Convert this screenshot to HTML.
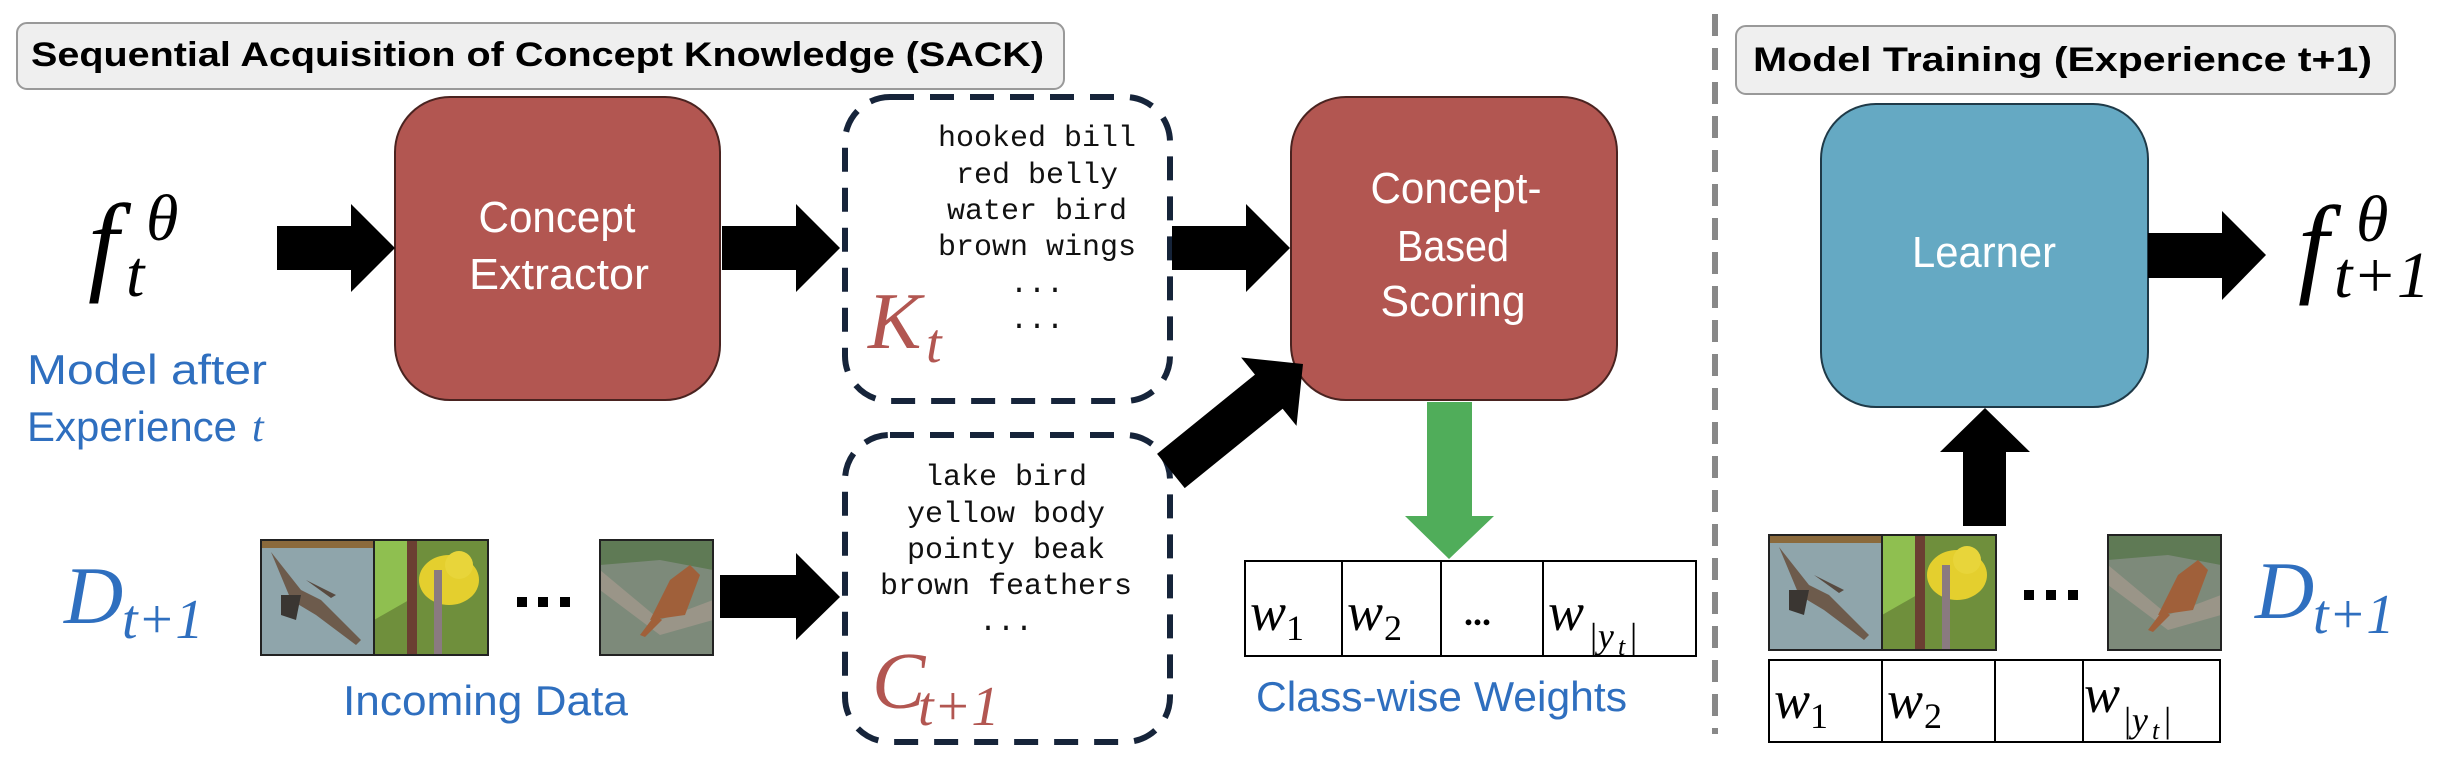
<!DOCTYPE html>
<html><head><meta charset="utf-8"><style>html,body{margin:0;padding:0;background:#fff}svg{display:block}</style></head>
<body>
<svg width="2462" height="757" viewBox="0 0 2462 757" xmlns="http://www.w3.org/2000/svg">
<defs>
<clipPath id="c1"><rect x="0" y="0" width="113" height="115"/></clipPath>
<g id="b1"><g clip-path="url(#c1)"><rect width="113" height="115" fill="#8fa5ab"/><rect width="113" height="8" fill="#8b6a3c"/>
<path d="M10 12 L40 50 L60 60 L100 100 L95 105 L55 75 L30 60 Z" fill="#6d5b4c"/><path d="M20 55 L40 55 L35 80 L20 75Z" fill="#3a3632"/><path d="M45 40 L75 55 L70 58Z" fill="#574a40"/></g><rect width="113" height="115" fill="none" stroke="#222" stroke-width="2"/></g>
<g id="b2"><rect width="114" height="115" fill="#6f8f3c"/><path d="M0 0 L40 0 L35 60 L0 80Z" fill="#8fbf50"/><rect x="33" y="0" width="10" height="115" fill="#6b3f32"/>
<ellipse cx="75" cy="40" rx="30" ry="25" fill="#e4cf2e"/><circle cx="85" cy="25" r="14" fill="#e8d53a"/><rect x="60" y="30" width="8" height="85" fill="#8a7a80"/><rect width="114" height="115" fill="none" stroke="#222" stroke-width="2"/></g>
<g id="b3"><rect width="113" height="115" fill="#7d8a7a"/><path d="M0 30 L60 80 L113 60 L113 80 L60 95 L0 50Z" fill="#9a9588"/><path d="M0 0 L113 0 L113 30 L60 20 L0 25Z" fill="#5f7a55"/>
<path d="M50 80 L70 40 L90 25 L100 35 L85 75 Z" fill="#a0603a"/><path d="M55 75 L40 95 L45 97 L62 80Z" fill="#a0603a"/><rect width="113" height="115" fill="none" stroke="#222" stroke-width="2"/></g>
</defs>
<g font-family="Liberation Sans, sans-serif">
<rect x="17" y="23" width="1047" height="66" rx="10" fill="#efefef" stroke="#999" stroke-width="2"/>
<text x="31" y="66" font-size="34" font-weight="bold" textLength="1013" lengthAdjust="spacingAndGlyphs">Sequential Acquisition of Concept Knowledge (SACK)</text>
<rect x="1736" y="26" width="659" height="68" rx="10" fill="#efefef" stroke="#999" stroke-width="2"/>
<text x="1753" y="71" font-size="34" font-weight="bold" textLength="619" lengthAdjust="spacingAndGlyphs">Model Training (Experience t+1)</text>
<line x1="1715" y1="14" x2="1715" y2="734" stroke="#888" stroke-width="6" stroke-dasharray="22 12"/>
<rect x="395" y="97" width="325" height="303" rx="55" fill="#b25651" stroke="#4a2320" stroke-width="2"/>
<text x="557" y="232" font-size="44" fill="#fff" text-anchor="middle" textLength="157" lengthAdjust="spacingAndGlyphs">Concept</text>
<text x="559" y="289" font-size="44" fill="#fff" text-anchor="middle" textLength="180" lengthAdjust="spacingAndGlyphs">Extractor</text>
<rect x="1291" y="97" width="326" height="303" rx="55" fill="#b25651" stroke="#4a2320" stroke-width="2"/>
<text x="1456" y="203" font-size="44" fill="#fff" text-anchor="middle" textLength="171" lengthAdjust="spacingAndGlyphs">Concept-</text>
<text x="1453" y="261" font-size="44" fill="#fff" text-anchor="middle" textLength="112" lengthAdjust="spacingAndGlyphs">Based</text>
<text x="1453" y="316" font-size="44" fill="#fff" text-anchor="middle" textLength="145" lengthAdjust="spacingAndGlyphs">Scoring</text>
<rect x="1821" y="104" width="327" height="303" rx="55" fill="#65a9c3" stroke="#1f3a48" stroke-width="2"/>
<text x="1984" y="267" font-size="44" fill="#fff" text-anchor="middle" textLength="144" lengthAdjust="spacingAndGlyphs">Learner</text>
<rect x="845" y="97" width="325" height="304" rx="45" fill="none" stroke="#16243a" stroke-width="6" stroke-dasharray="24 16"/>
<rect x="845" y="435" width="325" height="307" rx="45" fill="none" stroke="#16243a" stroke-width="6" stroke-dasharray="24 16"/>
<g font-family="Liberation Mono, monospace" font-size="30" text-anchor="middle" fill="#111">
<text x="1037" y="146">hooked bill</text><text x="1037" y="183">red belly</text><text x="1037" y="219">water bird</text><text x="1037" y="255">brown wings</text>
<text x="1037" y="292">...</text><text x="1037" y="328">...</text>
<text x="1006" y="485">lake bird</text><text x="1006" y="522">yellow body</text><text x="1006" y="558">pointy beak</text><text x="1006" y="594">brown feathers</text><text x="1006" y="630">...</text>
</g>
<g font-family="Liberation Serif, serif" font-style="italic">
<text x="88" y="280" font-size="110">f</text><text x="126" y="296" font-size="66">t</text><text x="146" y="240" font-size="66">θ</text>
<text x="2298" y="282" font-size="110">f</text><text x="2334" y="297" font-size="66">t+1</text><text x="2356" y="241" font-size="66">θ</text>
<g fill="#b25651"><text x="868" y="348" font-size="80">K</text><text x="926" y="362" font-size="56">t</text>
<text x="872" y="708" font-size="80">C</text><text x="918" y="725" font-size="56">t+1</text></g>
<g fill="#2f6fbf"><text x="64" y="623" font-size="82">D</text><text x="122" y="638" font-size="56">t+1</text>
<text x="2255" y="618" font-size="82">D</text><text x="2313" y="633" font-size="56">t+1</text></g>
</g>
<g fill="#2f6fbf" font-size="42">
<text x="27" y="384" textLength="240" lengthAdjust="spacingAndGlyphs">Model after</text>
<text x="27" y="441" textLength="210" lengthAdjust="spacingAndGlyphs">Experience</text>
<text x="252" y="441" font-family="Liberation Serif, serif" font-style="italic">t</text>
<text x="343" y="715" textLength="285" lengthAdjust="spacingAndGlyphs">Incoming Data</text>
<text x="1256" y="711" textLength="371" lengthAdjust="spacingAndGlyphs">Class-wise Weights</text>
</g>
<g fill="#000">
<polygon points="277,226 351,226 351,204 395,248 351,292 351,270 277,270"/>
<polygon points="722,226 796,226 796,204 840,248 796,292 796,270 722,270"/>
<polygon points="1172,226 1246,226 1246,204 1290,248 1246,292 1246,270 1172,270"/>
<polygon points="720,575 796,575 796,553 840,597 796,640 796,618 720,618"/>
<polygon points="2148,233 2222,233 2222,211 2266,255 2222,300 2222,278 2148,278"/>
<polygon points="1963,526 1963,452 1940,452 1985,408 2030,452 2006,452 2006,526"/>
<g transform="translate(1303,364) rotate(141)"><polygon points="0,0 44,-44 44,-22 170,-22 170,22 44,22 44,44"/></g>
<rect x="517" y="597" width="10" height="10"/><rect x="538" y="597" width="10" height="10"/><rect x="560" y="597" width="10" height="10"/>
<rect x="2024" y="590" width="10" height="10"/><rect x="2046" y="590" width="10" height="10"/><rect x="2068" y="590" width="10" height="10"/>
</g>
<polygon points="1427,402 1472,402 1472,516 1494,516 1449,559 1405,516 1427,516" fill="#50ad5a"/>
<use href="#b1" x="261" y="540"/><use href="#b2" x="374" y="540"/><use href="#b3" x="600" y="540"/>
<use href="#b1" x="1769" y="535"/><use href="#b2" x="1882" y="535"/><use href="#b3" x="2108" y="535"/>
<g fill="none" stroke="#000" stroke-width="2">
<rect x="1245" y="561" width="451" height="95"/><line x1="1342" y1="561" x2="1342" y2="656"/><line x1="1441" y1="561" x2="1441" y2="656"/><line x1="1543" y1="561" x2="1543" y2="656"/>
<rect x="1769" y="660" width="451" height="82"/><line x1="1882" y1="660" x2="1882" y2="742"/><line x1="1995" y1="660" x2="1995" y2="742"/><line x1="2083" y1="660" x2="2083" y2="742"/>
</g>
<g font-family="Liberation Serif, serif" font-style="italic">
<text x="1250" y="630" font-size="54">w</text><text x="1286" y="640" font-size="36" font-style="normal">1</text>
<text x="1347" y="630" font-size="54">w</text><text x="1384" y="640" font-size="36" font-style="normal">2</text>
<text x="1464" y="625" font-size="36" font-weight="bold" font-style="normal">...</text>
<text x="1548" y="630" font-size="54">w</text><text x="1588" y="648" font-size="36">|y</text><text x="1618" y="655" font-size="26">t</text><text x="1628" y="648" font-size="36">|</text>
<text x="1774" y="718" font-size="54">w</text><text x="1810" y="728" font-size="36" font-style="normal">1</text>
<text x="1887" y="718" font-size="54">w</text><text x="1924" y="728" font-size="36" font-style="normal">2</text>
<text x="2084" y="712" font-size="54">w</text><text x="2122" y="732" font-size="36">|y</text><text x="2152" y="739" font-size="26">t</text><text x="2162" y="732" font-size="36">|</text>
</g>
</g>
</svg>
</body></html>
